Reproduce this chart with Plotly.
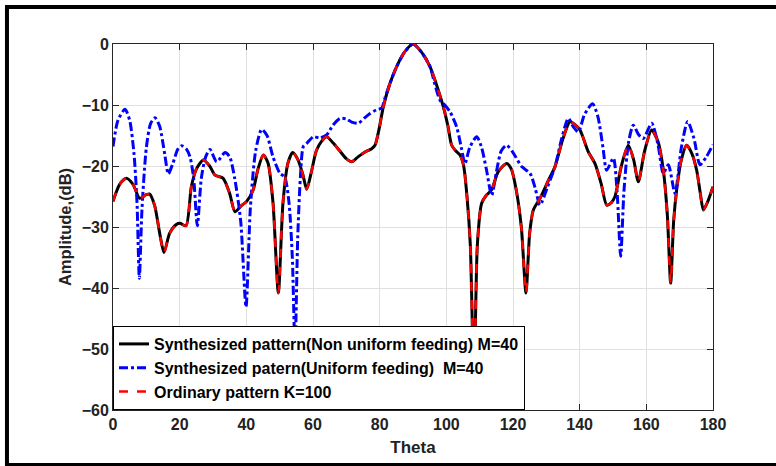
import plotly.graph_objects as go

# ---- data ----
nonuniform_theta = [0, 2, 4, 6, 8, 10, 11, 12.5, 14, 15.3, 17, 19, 20.1, 21.9, 23.5, 25, 27.1, 29, 30.6, 33,
                    35, 36.6, 38.5, 40.1, 42, 43.5, 45.1, 46.5, 48, 49.6, 51, 52.5, 53.9, 55.5, 57, 58.1,
                    59.5, 61, 62.5, 64.1, 66, 68, 70, 71.6, 73.5, 75.6, 77.5, 78.6, 79.8, 81.1, 83, 85.1,
                    87.5, 90, 92.5, 95.1, 97, 99.1, 100.5, 101.6, 102.8, 104.1, 105.2, 106.2, 107.2, 108.3,
                    109.3, 110.6, 112, 113.6, 115.5, 118.1, 119.5, 121, 122.5, 123.9, 125, 126.1, 128.1,
                    130.5, 132.6, 135, 137.1, 138.5, 140.1, 142.6, 144.6, 146.5, 148.1, 149.5, 150.6, 152.5,
                    154.6, 156.2, 157.6, 159.5, 161.6, 163.5, 165.1, 166.3, 167.3, 168.2, 169.1, 170.5,
                    172.1, 173.7, 175.1, 176.2, 177.1, 178.3, 180]
nonuniform_db = [-25.8, -23.0, -22.0, -23.0, -25.3, -24.7, -24.6, -26.5, -31.0, -34.2, -31.0, -29.6, -29.4,
                 -29.8, -23.4, -20.5, -19.0, -20.0, -21.5, -22.0, -24.5, -27.5, -26.5, -25.8, -24.0, -20.5,
                 -18.2, -19.5, -26.0, -40.8, -26.0, -19.5, -17.8, -19.0, -21.5, -23.8, -21.0, -17.5, -16.0,
                 -15.2, -16.2, -17.5, -18.8, -19.3, -18.5, -17.7, -17.2, -16.6, -14.0, -10.3, -6.6, -3.7,
                 -1.3, 0.0, -1.3, -3.7, -6.6, -10.3, -13.5, -16.6, -17.5, -18.2, -20.0, -25.0, -33.0, -56.0,
                 -33.0, -26.1, -24.8, -23.9, -21.0, -19.6, -20.5, -24.0, -30.0, -40.8, -31.0, -27.2, -25.3,
                 -22.5, -20.1, -15.5, -12.7, -13.2, -14.1, -17.7, -19.6, -23.0, -26.4, -26.0, -25.0, -20.0,
                 -16.6, -19.0, -22.6, -17.5, -14.1, -16.0, -20.7, -28.0, -39.2, -29.0, -23.9, -19.0,
                 -16.6, -18.0, -20.7, -24.5, -27.2, -26.0, -23.4]

uniform_theta = [0, 1.5, 3.6, 5, 6.3, 7.2, 7.9, 8.7, 10, 11.3, 12.6, 14, 15.5, 16.6, 18, 19.5, 20.6, 22, 23.1,
                 24.2, 25.3, 26.5, 27.8, 29.1, 31.1, 33.6, 35, 36.5, 38.3, 39.9, 41.2, 42.8, 44.6, 46.2, 48,
                 50.1, 51.5, 52.8, 53.8, 54.6, 55.4, 56.2, 57.1, 58.1, 60.1, 62, 64.1, 66, 68.1, 70, 71.6,
                 73.6, 75.5, 77.1, 79, 80.6, 81.5, 83, 85.1, 87.5, 90, 92.5, 95.1, 96.5, 98.1, 99.5, 101.1,
                 103.1, 104.5, 105.6, 107, 109.1, 110.5, 112, 113.6, 115, 116.5, 118.1, 120, 122.6, 125.1,
                 126.6, 128.1, 130.3, 132.6, 134.6, 136.6, 138, 139.6, 141.5, 143.9, 145.5, 147, 148.1,
                 150.1, 151.2, 152.3, 153.3, 154.7, 156.1, 157.6, 159.1, 161.6, 163.5, 165.1, 166.6, 168.6,
                 170.5, 172.4, 174.3, 176.1, 178, 180]
uniform_db = [-16.8, -12.5, -10.7, -12.5, -18.0, -26.0, -38.4, -27.0, -17.0, -13.0, -12.1, -13.5, -18.0, -21.3,
              -19.5, -17.2, -16.7, -17.2, -18.5, -22.0, -29.8, -22.0, -18.5, -17.3, -19.3, -17.8, -18.5,
              -22.0, -29.0, -43.1, -27.0, -17.5, -14.0, -15.0, -18.5, -21.2, -21.8, -26.0, -35.0, -50.0,
              -32.0, -22.0, -16.8, -16.3, -15.2, -15.4, -14.9, -13.3, -12.2, -12.3, -12.8, -13.0, -12.1,
              -11.4, -10.8, -10.5, -9.0, -6.6, -3.7, -1.3, 0.0, -1.3, -3.7, -6.5, -9.2, -10.0, -11.1,
              -13.6, -17.0, -19.6, -17.0, -15.2, -16.8, -20.5, -24.8, -21.0, -17.5, -16.6, -17.8, -20.1,
              -21.2, -23.5, -26.4, -23.5, -20.1, -15.5, -12.2, -13.5, -14.4, -11.5, -9.8, -12.0, -17.0,
              -20.7, -18.7, -24.0, -34.8, -24.0, -16.0, -13.3, -14.8, -15.5, -13.0, -16.5, -21.2, -19.8,
              -24.5, -17.0, -12.7, -15.5, -19.8, -18.5, -16.5]

# the ordinary pattern coincides with the non-uniform synthesized pattern in the picture
ordinary_theta = list(nonuniform_theta)
ordinary_db = list(nonuniform_db)

x_ticks = [0, 20, 40, 60, 80, 100, 120, 140, 160, 180]
y_ticks = [0, -10, -20, -30, -40, -50, -60]

names = ["Synthesized pattern(Non uniform feeding) M=40",
         "Synthesized patern(Uniform feeding)  M=40",
         "Ordinary pattern K=100"]

FONT = "Liberation Sans, Arial, sans-serif"

fig = go.Figure()
fig.add_trace(go.Scatter(x=nonuniform_theta, y=nonuniform_db, mode="lines", name=names[0],
                         line=dict(color="#000000", width=3, shape="spline", smoothing=0.7)))
fig.add_trace(go.Scatter(x=uniform_theta, y=uniform_db, mode="lines", name=names[1],
                         line=dict(color="#0000ff", width=3, dash="dashdot", shape="spline", smoothing=0.7)))
fig.add_trace(go.Scatter(x=ordinary_theta, y=ordinary_db, mode="lines", name=names[2],
                         line=dict(color="#ff0000", width=2.5, dash="dash", shape="spline", smoothing=0.7)))

axis_common = dict(
    showline=True, linecolor="#262626", linewidth=1, mirror="allticks",
    ticks="inside", ticklen=6, tickcolor="#262626",
    showgrid=True, gridcolor="#e0e0e0", gridwidth=1, zeroline=False,
    tickfont=dict(family=FONT, size=16, color="#222222", weight="bold"),
)

fig.update_xaxes(range=[0, 180], tickvals=x_ticks,
                 title=dict(text="Theta", font=dict(family=FONT, size=17, color="#222222", weight="bold"),
                            standoff=8),
                 **axis_common)
fig.update_yaxes(range=[-60, 0], tickvals=y_ticks,
                 title=dict(text="Amplitude,(dB)", font=dict(family=FONT, size=16.5, color="#222222", weight="bold"),
                            standoff=5),
                 **axis_common)

# outer black frame (left, top, bottom)
frame = dict(type="line", xref="paper", yref="paper", line=dict(color="#000000", width=4), layer="above")
fig.add_shape(x0=-0.1767, x1=-0.1767, y0=1.1011, y1=-0.16, **frame)
fig.add_shape(x0=-0.18, x1=1.12, y0=1.1011, y1=1.1011, **frame)
fig.add_shape(x0=-0.18, x1=1.12, y0=-0.1503, y1=-0.1503, **frame)

fig.update_layout(
    width=776, height=466,
    margin=dict(l=113, r=63, t=44, b=56),
    paper_bgcolor="#ffffff", plot_bgcolor="#ffffff",
    font=dict(family=FONT, color="#000000"),
    legend=dict(x=0, y=0, xanchor="left", yanchor="bottom",
                bgcolor="#ffffff", bordercolor="#000000", borderwidth=1,
                font=dict(family=FONT, size=16, color="#000000", weight="bold"),
                tracegroupgap=0, itemwidth=30),
    showlegend=True,
)

fig.write_html("out.html")
